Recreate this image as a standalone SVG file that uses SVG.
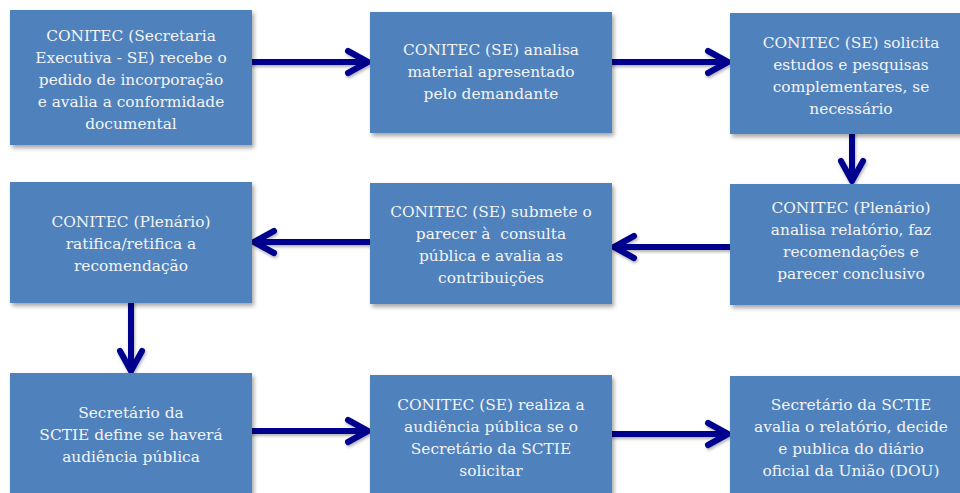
<svg xmlns="http://www.w3.org/2000/svg" width="960" height="493" viewBox="0 0 960 493">
<defs>
<filter id="sh" x="-10%" y="-10%" width="130%" height="130%">
<feDropShadow dx="2" dy="3" stdDeviation="2" flood-color="#000" flood-opacity="0.35"/>
</filter>
<filter id="ash" x="-20%" y="-50%" width="140%" height="200%">
<feDropShadow dx="1" dy="2" stdDeviation="1.5" flood-color="#000" flood-opacity="0.3"/>
</filter>
</defs>
<style>
.box{fill:#4F81BD;filter:url(#sh);}
.t{font-family:"DejaVu Serif","Liberation Serif",serif;font-size:15.4px;fill:#F4F4F4;text-anchor:middle;white-space:pre;}
.a{fill:none;stroke:#00008E;stroke-width:6;stroke-linecap:round;stroke-linejoin:round;}
</style>
<rect width="960" height="493" fill="#FFFFFF"/>
<g id="connectors" filter="url(#ash)">
<path class="a" d="M252 62H367M348 51L368 62L348 73"/>
<path class="a" d="M612 62H727M708 51L728 62L708 73"/>
<path class="a" d="M852 134V180M841 161L852 181L863 161"/>
<path class="a" d="M730 247H615M634 236L614 247L634 258"/>
<path class="a" d="M370 242H255M274 231L254 242L274 253"/>
<path class="a" d="M131 303V370M120 351L131 371L142 351"/>
<path class="a" d="M252 431H367M348 420L368 431L348 442"/>
<path class="a" d="M612 434H727M708 423L728 434L708 445"/>
</g>
<g id="n1"><rect class="box" x="10" y="10" width="242" height="135"/>
<text class="t"><tspan x="131" y="41">CONITEC (Secretaria</tspan><tspan x="131" y="63">Executiva - SE) recebe o</tspan><tspan x="131" y="85">pedido de incorporação</tspan><tspan x="131" y="107">e avalia a conformidade</tspan><tspan x="131" y="129">documental</tspan></text></g>
<g id="n2"><rect class="box" x="370" y="12" width="242" height="121"/>
<text class="t"><tspan x="491" y="55">CONITEC (SE) analisa</tspan><tspan x="491" y="77">material apresentado</tspan><tspan x="491" y="99">pelo demandante</tspan></text></g>
<g id="n3"><rect class="box" x="730" y="13" width="242" height="121"/>
<text class="t"><tspan x="851" y="48">CONITEC (SE) solicita</tspan><tspan x="851" y="70">estudos e pesquisas</tspan><tspan x="851" y="92">complementares, se</tspan><tspan x="851" y="114">necessário</tspan></text></g>
<g id="n4"><rect class="box" x="10" y="182" width="242" height="121"/>
<text class="t"><tspan x="131" y="227">CONITEC (Plenário)</tspan><tspan x="131" y="249">ratifica/retifica a</tspan><tspan x="131" y="271">recomendação</tspan></text></g>
<g id="n5"><rect class="box" x="370" y="183" width="242" height="121"/>
<text class="t"><tspan x="491" y="217">CONITEC (SE) submete o</tspan><tspan x="491" y="239">parecer à  consulta</tspan><tspan x="491" y="261">pública e avalia as</tspan><tspan x="491" y="283">contribuições</tspan></text></g>
<g id="n6"><rect class="box" x="730" y="184" width="242" height="121"/>
<text class="t"><tspan x="851" y="213">CONITEC (Plenário)</tspan><tspan x="851" y="235">analisa relatório, faz</tspan><tspan x="851" y="257">recomendações e</tspan><tspan x="851" y="279">parecer conclusivo</tspan></text></g>
<g id="n7"><rect class="box" x="10" y="373" width="242" height="126"/>
<text class="t"><tspan x="131" y="418">Secretário da</tspan><tspan x="131" y="440">SCTIE define se haverá</tspan><tspan x="131" y="462">audiência pública</tspan></text></g>
<g id="n8"><rect class="box" x="370" y="375" width="242" height="126"/>
<text class="t"><tspan x="491" y="410">CONITEC (SE) realiza a</tspan><tspan x="491" y="432">audiência pública se o</tspan><tspan x="491" y="454">Secretário da SCTIE</tspan><tspan x="491" y="476">solicitar</tspan></text></g>
<g id="n9"><rect class="box" x="730" y="376" width="242" height="126"/>
<text class="t"><tspan x="851" y="410">Secretário da SCTIE</tspan><tspan x="851" y="432">avalia o relatório, decide</tspan><tspan x="851" y="454">e publica do diário</tspan><tspan x="851" y="476">oficial da União (DOU)</tspan></text></g>
</svg>
